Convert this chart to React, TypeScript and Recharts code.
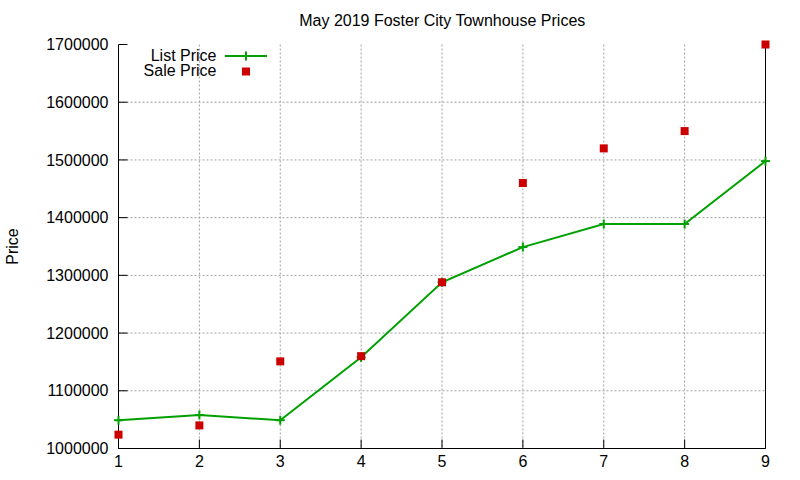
import React from 'react';
import { ComposedChart, Line, XAxis, YAxis, CartesianGrid } from 'recharts';

const categories = [1, 2, 3, 4, 5, 6, 7, 8, 9];
const listPrice = [1049000, 1058000, 1049000, 1158000, 1288000, 1349000, 1389000, 1389000, 1498000];
const salePrice = [1024000, 1040000, 1151000, 1160000, 1288000, 1460000, 1520000, 1550000, 1700000];
const yTicks = [1000000, 1100000, 1200000, 1300000, 1400000, 1500000, 1600000, 1700000];
const xTicks = [1, 2, 3, 4, 5, 6, 7, 8, 9];
const title = 'May 2019 Foster City Townhouse Prices';
const seriesNames = ['List Price', 'Sale Price'];

const data = categories.map((c, i) => ({ x: c, list: listPrice[i], sale: salePrice[i] }));

const FONT = '"Liberation Sans", Arial, sans-serif';
const GREEN = '#00a000';
const RED = '#cc0000';

const LeftTick = (props: any) => {
  const { x, y, payload } = props;
  return (
    <g>
      <line x1={x} y1={y} x2={x + 9} y2={y} stroke="#000" strokeWidth={1} />
      <text x={x - 10} y={y} dy="0.35em" textAnchor="end" fontSize={16} fontFamily={FONT} fill="#000">
        {payload.value}
      </text>
    </g>
  );
};

const RightTick = (props: any) => {
  const { x, y } = props;
  return <line x1={x} y1={y} x2={x - 9} y2={y} stroke="#000" strokeWidth={1} />;
};

const BottomTick = (props: any) => {
  const { x, y, payload } = props;
  return (
    <g>
      <line x1={x} y1={y} x2={x} y2={y - 9} stroke="#000" strokeWidth={1} />
      <text x={x} y={y + 13} dy="0.35em" textAnchor="middle" fontSize={16} fontFamily={FONT} fill="#000">
        {payload.value}
      </text>
    </g>
  );
};

const TopTick = (props: any) => {
  const { x, y } = props;
  return <line x1={x} y1={y} x2={x} y2={y + 9} stroke="#000" strokeWidth={1} />;
};

const PlusDot = (props: any) => {
  const { cx, cy } = props;
  if (cx == null || cy == null) return null;
  return (
    <g>
      <line x1={cx - 4.5} y1={cy} x2={cx + 4.5} y2={cy} stroke={GREEN} strokeWidth={2} />
      <line x1={cx} y1={cy - 4.5} x2={cx} y2={cy + 4.5} stroke={GREEN} strokeWidth={2} />
    </g>
  );
};

const SquareDot = (props: any) => {
  const { cx, cy } = props;
  if (cx == null || cy == null) return null;
  return <rect x={cx - 4} y={cy - 4} width={8} height={8} fill={RED} />;
};

const LegendOverlay = () => (
  <svg width={800} height={480} style={{ position: 'absolute', left: 0, top: 0, pointerEvents: 'none' }}>
    <text x={216.5} y={55} dy="0.35em" textAnchor="end" fontSize={16} fontFamily={FONT} fill="#000">
      {seriesNames[0]}
    </text>
    <line x1={225} y1={56} x2={267} y2={56} stroke={GREEN} strokeWidth={2} />
    <line x1={246} y1={51.5} x2={246} y2={60.5} stroke={GREEN} strokeWidth={2} />
    <text x={216.5} y={70} dy="0.35em" textAnchor="end" fontSize={16} fontFamily={FONT} fill="#000">
      {seriesNames[1]}
    </text>
    <rect x={242} y={67.5} width={8} height={8} fill={RED} />
  </svg>
);

const YLabel = (props: any) => {
  const { viewBox } = props;
  const cy = viewBox.y + viewBox.height / 2;
  const cx = 12;
  return (
    <text x={cx} y={cy} dy="0.35em" textAnchor="middle" fontSize={16} fontFamily={FONT} fill="#000" transform={`rotate(-90 ${cx} ${cy})`}>
      Price
    </text>
  );
};

export default function App() {
  return (
    <div style={{ position: 'absolute', left: 0, top: 0, width: 800, height: 480, background: '#fff' }}>
      <div
        style={{
          position: 'absolute',
          left: 118.5,
          width: 647.5,
          top: 11,
          textAlign: 'center',
          fontFamily: FONT,
          fontSize: 16,
          lineHeight: '20px',
          color: '#000',
        }}
      >
        {title}
      </div>
      <ComposedChart width={800} height={480} data={data} margin={{ top: 44.5, right: 0, bottom: 0, left: 0 }}>
        <CartesianGrid stroke="#a0a0a0" strokeDasharray="2 2" strokeWidth={1} xAxisId="bottom" yAxisId="left" verticalValues={xTicks.slice(1, -1)} horizontalValues={yTicks.slice(1, -1)} />
        <XAxis
          xAxisId="bottom"
          dataKey="x"
          type="number"
          domain={[1, 9]}
          ticks={xTicks}
          interval={0}
          height={31.5}
          tickSize={0}
          tickMargin={0}
          tickLine={false}
          axisLine={{ stroke: '#000', strokeWidth: 1 }}
          tick={<BottomTick />}
        />
        <XAxis
          xAxisId="top"
          orientation="top"
          dataKey="x"
          type="number"
          domain={[1, 9]}
          ticks={xTicks}
          interval={0}
          height={0}
          tickSize={0}
          tickMargin={0}
          tickLine={false}
          axisLine={{ stroke: '#000', strokeWidth: 1 }}
          tick={<TopTick />}
        />
        <YAxis
          yAxisId="left"
          type="number"
          domain={[1000000, 1700000]}
          ticks={yTicks}
          interval={0}
          width={118.5}
          tickSize={0}
          tickMargin={0}
          tickLine={false}
          axisLine={{ stroke: '#000', strokeWidth: 1 }}
          tick={<LeftTick />}
          label={<YLabel />}
        />
        <YAxis
          yAxisId="right"
          orientation="right"
          type="number"
          domain={[1000000, 1700000]}
          ticks={yTicks}
          interval={0}
          width={34.5}
          tickSize={0}
          tickMargin={0}
          tickLine={false}
          axisLine={{ stroke: '#000', strokeWidth: 1 }}
          tick={<RightTick />}
        />
        <Line
          xAxisId="bottom"
          yAxisId="left"
          type="linear"
          dataKey="list"
          stroke={GREEN}
          strokeWidth={2}
          dot={<PlusDot />}
          activeDot={false}
          isAnimationActive={false}
        />
        <Line
          xAxisId="bottom"
          yAxisId="left"
          type="linear"
          dataKey="sale"
          stroke="none"
          strokeWidth={0}
          dot={<SquareDot />}
          activeDot={false}
          isAnimationActive={false}
        />
      </ComposedChart>
      <LegendOverlay />
    </div>
  );
}
